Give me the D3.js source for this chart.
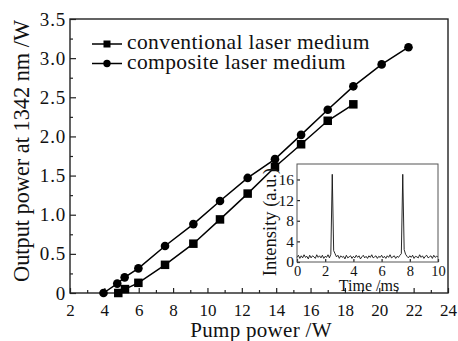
<!DOCTYPE html>
<html>
<head>
<meta charset="utf-8">
<script src="https://cdn.jsdelivr.net/npm/d3@7"></script>
<style>
  body { margin: 0; background: #fff; }
  svg { display: block; font-family: "Liberation Serif", "Times New Roman", serif; }
  .frame { fill: none; stroke: #222; stroke-width: 1.4; }
  .tick line { stroke: #222; stroke-width: 1.2; }
  .series { fill: none; stroke: #000; stroke-width: 1.5; }
  .trace { fill: none; stroke: #111; stroke-width: 0.9; }
</style>
</head>
<body>
<div id="chart"></div>
<script>
// main plot data
const compositePump = [3.95, 4.75, 5.18, 5.98, 7.53, 9.18, 10.73, 12.34, 13.93, 15.45, 17.0, 18.49, 20.14, 21.7];
const compositePower = [0, 0.12, 0.2, 0.315, 0.6, 0.88, 1.175, 1.47, 1.71, 2.02, 2.34, 2.64, 2.92, 3.14];
const conventionalPump = [4.81, 5.2, 5.98, 7.53, 9.18, 10.73, 12.34, 13.93, 15.45, 17.0, 18.49];
const conventionalPower = [0, 0.05, 0.13, 0.36, 0.63, 0.94, 1.27, 1.61, 1.9, 2.2, 2.41];

const xTicks = [2, 4, 6, 8, 10, 12, 14, 16, 18, 20, 22, 24];
const yTicks = [0, 0.5, 1.0, 1.5, 2.0, 2.5, 3.0, 3.5];
const legendLabels = ["conventional laser medium", "composite laser medium"];

// inset: pulse train, one sample every 0.1 ms from 0 to 10 ms
const sampleStep = 0.1;
const pulseIntensity = [
  0.9, 1.3, 0.7, 1.2, 0.8, 1.4, 0.9, 1.1, 0.6, 1.3,
  0.8, 1.2, 1.0, 0.7, 1.4, 0.9, 1.2, 0.8, 1.3, 0.7,
  1.1, 0.9, 1.4, 0.8, 1.5, 17.0, 2.2, 1.6, 1.0, 1.3,
  0.7, 1.2, 0.9, 1.1, 0.6, 1.3, 0.8, 1.0, 1.2, 0.7,
  1.1, 0.8, 1.3, 0.9, 1.2, 0.6, 1.0, 1.3, 0.8, 1.1,
  0.7, 1.2, 0.9, 1.4, 0.8, 1.0, 1.2, 0.7, 1.1, 0.9,
  1.3, 0.8, 1.1, 0.7, 1.2, 0.9, 1.4, 0.8, 1.0, 1.2,
  0.7, 1.1, 0.9, 1.3, 1.6, 17.0, 2.4, 1.5, 1.1, 0.8,
  1.2, 0.9, 1.3, 0.7, 1.1, 1.0, 0.8, 1.4, 0.9, 1.2,
  0.7, 1.1, 1.3, 0.8, 1.0, 1.2, 0.7, 1.3, 0.9, 1.1, 1.0
];
const insetXTicks = [0, 2, 4, 6, 8, 10];
const insetYTicks = [0, 4, 8, 12, 16];

const W = 458, H = 341;
const main = { left: 70, right: 448, top: 19, bottom: 293 };
const inset = { left: 297, right: 438, top: 164, bottom: 262 };
const serif = "Liberation Serif";

const svg = d3.select("#chart").append("svg").attr("width", W).attr("height", H);

const x = d3.scaleLinear().domain([2, 24]).range([main.left, main.right]);
const y = d3.scaleLinear().domain([0, 3.5]).range([main.bottom, main.top]);

const fmtY = (d) => (d === 0 ? "0" : d3.format(".1f")(d));
const styleText = (size, spacing = 0) => (g) =>
  g.selectAll("text")
    .attr("font-size", size)
    .attr("font-family", serif)
    .attr("letter-spacing", spacing)
    .attr("fill", "#111");

// minor ticks first, then major with labels
svg.append("g")
  .attr("transform", `translate(0,${main.bottom})`)
  .call(d3.axisBottom(x).tickValues(d3.range(3, 24, 2)).tickSize(-3).tickFormat(""))
  .call((g) => g.select(".domain").remove());
svg.append("g")
  .attr("transform", `translate(0,${main.bottom})`)
  .call(d3.axisBottom(x).tickValues(xTicks).tickSizeInner(-5).tickSizeOuter(0).tickPadding(11))
  .call((g) => g.select(".domain").remove())
  .call(styleText(17));

svg.append("g")
  .attr("transform", `translate(${main.left},0)`)
  .call(d3.axisLeft(y).tickValues(d3.range(0.25, 3.5, 0.5)).tickSize(-3).tickFormat(""))
  .call((g) => g.select(".domain").remove());
svg.append("g")
  .attr("transform", `translate(${main.left},0)`)
  .call(d3.axisLeft(y).tickValues(yTicks).tickSizeInner(-6).tickSizeOuter(0).tickPadding(4).tickFormat(fmtY))
  .call((g) => g.select(".domain").remove())
  .call(styleText(19, 0.8));

svg.append("rect").attr("class", "frame")
  .attr("x", main.left).attr("y", main.top)
  .attr("width", main.right - main.left).attr("height", main.bottom - main.top);

// series
const conventional = conventionalPump.map((p, i) => ({ x: p, y: conventionalPower[i] }));
const composite = compositePump.map((p, i) => ({ x: p, y: compositePower[i] }));
const line = d3.line().x((d) => x(d.x)).y((d) => y(d.y));

svg.append("path").datum(conventional).attr("class", "series").attr("d", line);
svg.append("path").datum(composite).attr("class", "series").attr("d", line);

const sq = 8.5;
svg.append("g").selectAll("rect").data(conventional).enter().append("rect")
  .attr("x", (d) => x(d.x) - sq / 2).attr("y", (d) => y(d.y) - sq / 2)
  .attr("width", sq).attr("height", sq).attr("fill", "#000");
svg.append("g").selectAll("circle").data(composite).enter().append("circle")
  .attr("cx", (d) => x(d.x)).attr("cy", (d) => y(d.y)).attr("r", 4.3).attr("fill", "#000");

// legend
const legend = svg.append("g").attr("transform", "translate(92,44)");
legendLabels.forEach((label, i) => {
  const row = legend.append("g").attr("transform", `translate(0,${i * 19.5})`);
  row.append("line").attr("x1", 0).attr("x2", 30).attr("stroke", "#000").attr("stroke-width", 1.5);
  if (i === 0) {
    row.append("rect").attr("x", 15 - 3.5).attr("y", -3.5).attr("width", 7).attr("height", 7).attr("fill", "#000");
  } else {
    row.append("circle").attr("cx", 15).attr("r", 3.7).attr("fill", "#000");
  }
  row.append("text").attr("x", 35).attr("dy", "0.24em")
    .attr("font-size", 21.5).attr("letter-spacing", 0.4).attr("fill", "#111").text(label);
});

// axis titles
svg.append("text")
  .attr("x", 261).attr("y", 337)
  .attr("text-anchor", "middle").attr("font-size", 21).attr("letter-spacing", 0.3).attr("fill", "#111")
  .text("Pump power /W");
svg.append("text")
  .attr("transform", "translate(29,151) rotate(-90)")
  .attr("text-anchor", "middle").attr("font-size", 22.3).attr("fill", "#111")
  .text("Output power at 1342 nm /W");

// inset
const ix = d3.scaleLinear().domain([0, 10]).range([inset.left, inset.right]);
const iy = d3.scaleLinear().domain([0, 19]).range([inset.bottom, inset.top]);

svg.append("rect")
  .attr("x", inset.left).attr("y", inset.top)
  .attr("width", inset.right - inset.left).attr("height", inset.bottom - inset.top)
  .attr("fill", "#fff");

const pulses = pulseIntensity.map((v, i) => ({ t: i * sampleStep, v }));
svg.append("path").datum(pulses).attr("class", "trace")
  .attr("d", d3.line().x((d) => ix(d.t)).y((d) => iy(d.v)));

svg.append("g")
  .attr("transform", `translate(0,${inset.bottom})`)
  .call(d3.axisBottom(ix).tickValues(insetXTicks).tickSizeInner(-3).tickSizeOuter(0).tickPadding(4))
  .call((g) => g.select(".domain").remove())
  .call(styleText(14.5));
svg.append("g")
  .attr("transform", `translate(${inset.left},0)`)
  .call(d3.axisLeft(iy).tickValues(insetYTicks).tickSizeInner(-3).tickSizeOuter(0).tickPadding(3))
  .call((g) => g.select(".domain").remove())
  .call(styleText(15.5));

svg.append("rect")
  .attr("x", inset.left).attr("y", inset.top)
  .attr("width", inset.right - inset.left).attr("height", inset.bottom - inset.top)
  .attr("fill", "none").attr("stroke", "#555").attr("stroke-width", 1);

svg.append("text")
  .attr("x", 369).attr("y", 291)
  .attr("text-anchor", "middle").attr("font-size", 16).attr("fill", "#111")
  .text("Time /ms");
svg.append("text")
  .attr("transform", "translate(276,222) rotate(-90)")
  .attr("text-anchor", "middle").attr("font-size", 18.5).attr("fill", "#111")
  .text("Intensity (a.u.)");
</script>
</body>
</html>
